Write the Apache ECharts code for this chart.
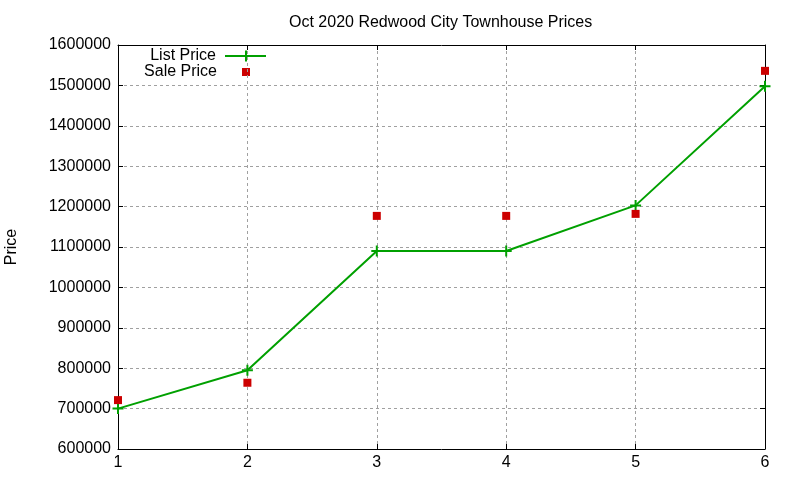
<!DOCTYPE html>
<html>
<head>
<meta charset="utf-8">
<script src="https://cdn.jsdelivr.net/npm/echarts@6/dist/echarts.min.js"></script>
<style>
  html, body { margin: 0; padding: 0; background: #fff; }
  #chart { width: 800px; height: 480px; }
</style>
</head>
<body>
<div id="chart"></div>
<script>
// data
const houses = [1, 2, 3, 4, 5, 6]
const listPrice = [700000, 795000, 1090000, 1090000, 1203000, 1498000]
const salePrice = [721000, 764000, 1177000, 1177000, 1182000, 1536000]
const yTicks = [600000, 700000, 800000, 900000, 1000000, 1100000, 1200000, 1300000, 1400000, 1500000, 1600000]

const green = '#00a000'
const red = '#cc0000'
const font = 'Liberation Sans, Arial, sans-serif'
const plus = 'path://M4.1,0H5.9V4.1H10V5.9H5.9V10H4.1V5.9H0V4.1H4.1Z'

const chart = echarts.init(document.getElementById('chart'))

const gridDash = { show: true, lineStyle: { color: '#a0a0a0', type: [3, 3], width: 1 } }
const hidden = { show: false }

const option = {
  backgroundColor: '#fff',
  animation: false,
  textStyle: { fontFamily: font },
  title: {
    text: 'Oct 2020 Redwood City Townhouse Prices',
    left: 284,
    top: 10,
    textStyle: { fontSize: 16, fontWeight: 'normal', color: '#000', fontFamily: font }
  },
  grid: { left: 118, right: 35, top: 45, bottom: 31, containLabel: false, outerBoundsMode: 'none' },
  xAxis: [
    {
      type: 'value',
      min: houses[0],
      max: houses[houses.length - 1],
      interval: 1,
      axisLine: { show: true, lineStyle: { color: '#000', width: 1 } },
      axisTick: { show: true, inside: true, length: 5, lineStyle: { color: '#000' } },
      axisLabel: { color: '#000', fontSize: 16, margin: 6, fontFamily: font },
      splitLine: gridDash
    },
    {
      type: 'value',
      position: 'top',
      min: houses[0],
      max: houses[houses.length - 1],
      interval: 1,
      axisLine: { show: true, lineStyle: { color: '#000', width: 1 } },
      axisTick: { show: true, inside: true, length: 5, lineStyle: { color: '#000' } },
      axisLabel: hidden,
      splitLine: hidden
    }
  ],
  yAxis: [
    {
      type: 'value',
      min: yTicks[0],
      max: yTicks[yTicks.length - 1],
      interval: 100000,
      name: 'Price',
      nameLocation: 'middle',
      nameGap: 98,
      nameRotate: 90,
      nameTextStyle: { color: '#000', fontSize: 16, fontFamily: font },
      axisLine: { show: true, lineStyle: { color: '#000', width: 1 } },
      axisTick: { show: true, inside: true, length: 5, lineStyle: { color: '#000' } },
      axisLabel: { color: '#000', fontSize: 16, margin: 7, fontFamily: font, formatter: v => String(v) },
      splitLine: gridDash
    },
    {
      type: 'value',
      position: 'right',
      min: yTicks[0],
      max: yTicks[yTicks.length - 1],
      interval: 100000,
      axisLine: { show: true, lineStyle: { color: '#000', width: 1 } },
      axisTick: { show: true, inside: true, length: 5, lineStyle: { color: '#000' } },
      axisLabel: hidden,
      splitLine: hidden
    }
  ],
  series: [
    {
      name: 'List Price',
      type: 'line',
      data: houses.map((h, i) => [h, listPrice[i]]),
      lineStyle: { color: green, width: 2 },
      itemStyle: { color: green },
      symbol: plus,
      symbolSize: 11,
      showAllSymbol: true,
      z: 3
    },
    {
      name: 'Sale Price',
      type: 'scatter',
      data: houses.map((h, i) => [h, salePrice[i]]),
      itemStyle: { color: red, opacity: 1 },
      symbol: 'rect',
      symbolSize: 8,
      z: 4
    }
  ],
  // gnuplot style key: text on the left, sample on the right
  graphic: [
    { type: 'text', x: 216, y: 56, style: { text: 'List Price', align: 'right', verticalAlign: 'middle', font: '16px ' + font, fill: '#000' } },
    { type: 'line', shape: { x1: 225, y1: 56, x2: 266, y2: 56 }, style: { stroke: green, lineWidth: 2 } },
    { type: 'rect', shape: { x: 245, y: 50.5, width: 2, height: 11 }, style: { fill: green } },
    { type: 'text', x: 217, y: 72, style: { text: 'Sale Price', align: 'right', verticalAlign: 'middle', font: '16px ' + font, fill: '#000' } },
    { type: 'rect', shape: { x: 242, y: 68, width: 8, height: 8 }, style: { fill: red } }
  ]
}

chart.setOption(option)
</script>
</body>
</html>
